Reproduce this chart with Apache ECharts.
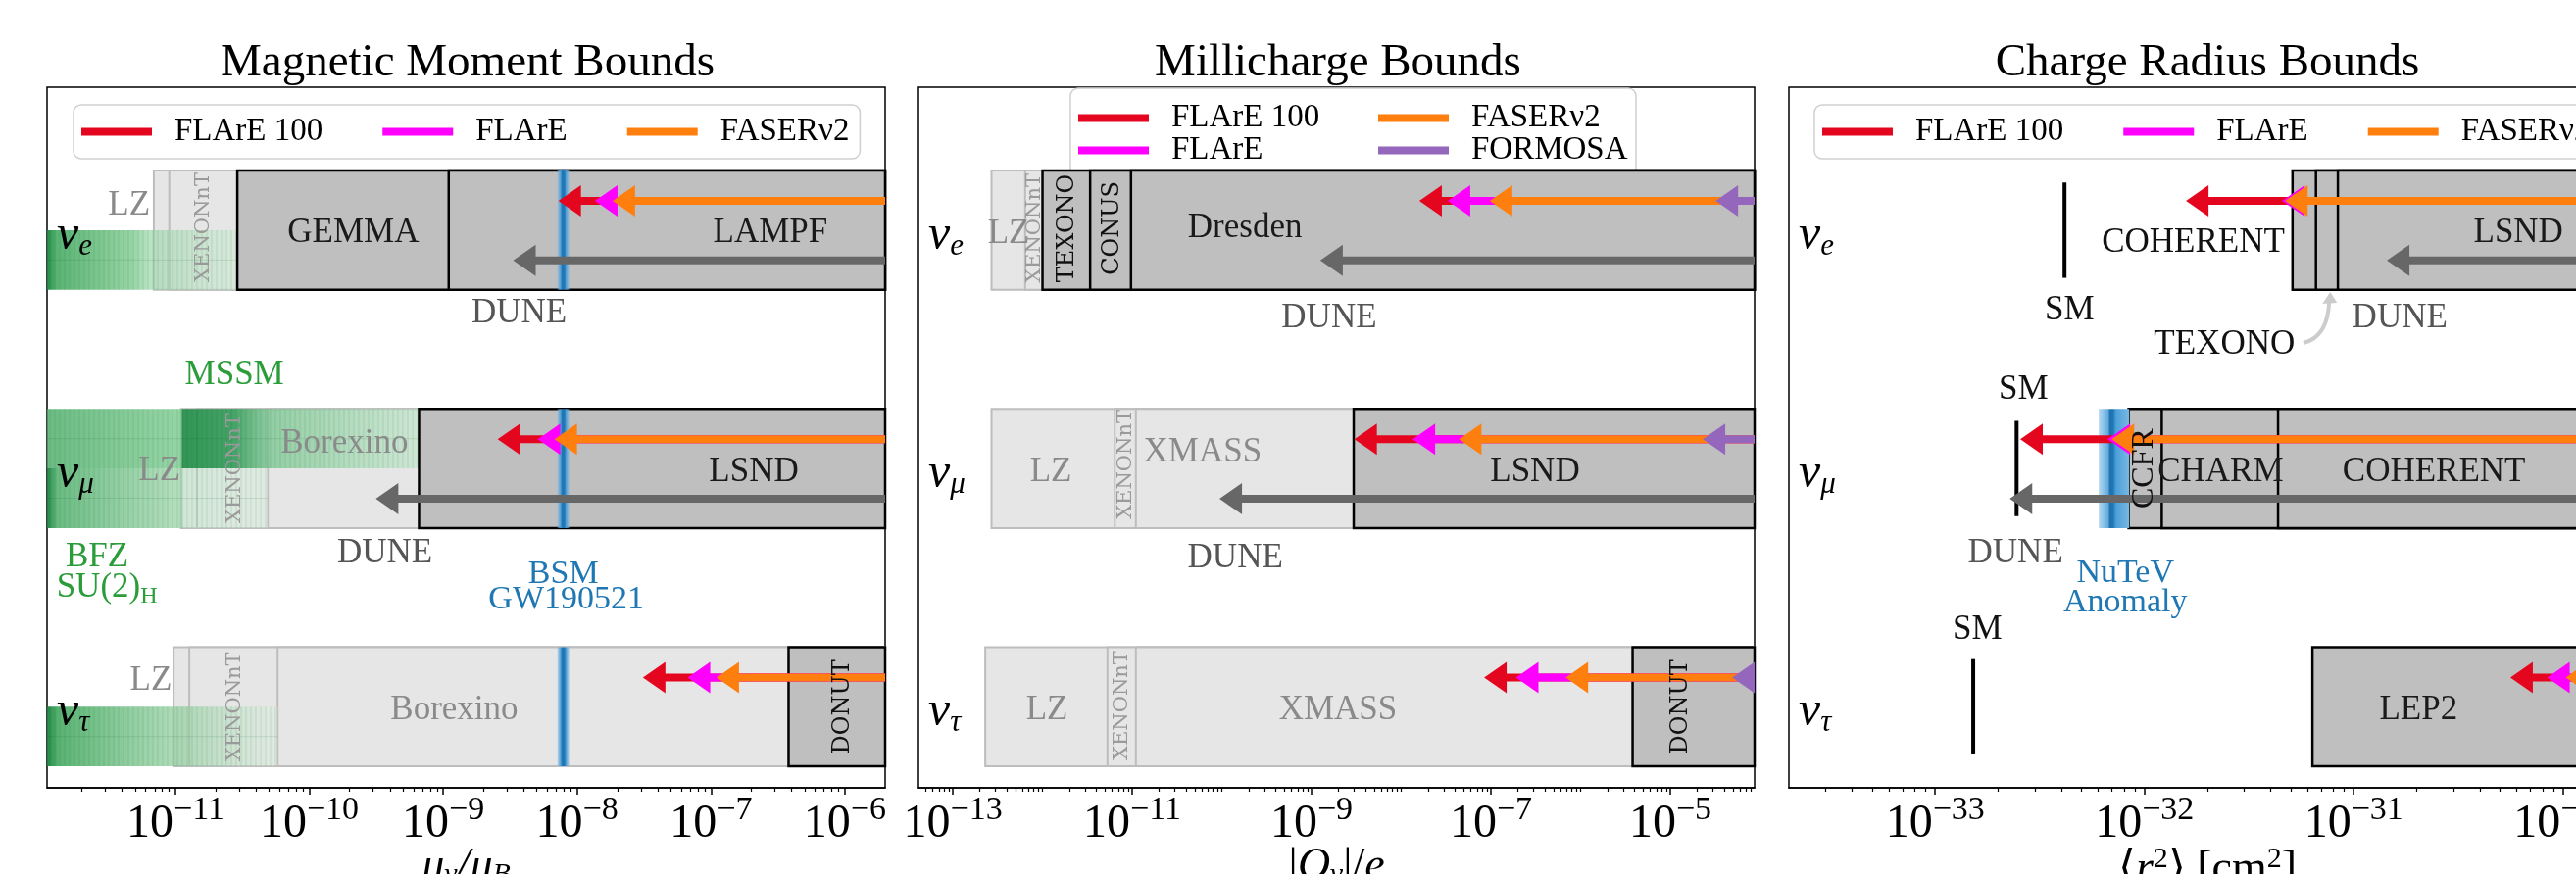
<!DOCTYPE html>
<html><head><meta charset="utf-8">
<script src="https://cdn.jsdelivr.net/npm/echarts@6/dist/echarts.min.js"></script>
<style>html,body{margin:0;padding:0;background:#fff;overflow:hidden}#c{width:2628px;height:892px}</style>
</head><body><div id="c"></div>
<script>
// ================= DATA =================
const rowFlavours = ['τ', 'μ', 'e'];          // y rows 0,1,2
const flavourOrder = [2, 1, 0];               // arrays below are listed νe, νμ, ντ

// ---- Magnetic moment (μν/μB) ----
const axisRangeMM = [1.1e-12, 2e-6];
const majorExpMM = [-11, -10, -9, -8, -7, -6];
const mmLightBoxes = [['LZ', 6.9e-12, 2], ['XENONnT', 9.0e-12, 2],
  ['LZ', 1.1e-11, 1], ['XENONnT', 1.45e-11, 1], ['Borexino', 4.9e-11, 1],
  ['LZ', 9.7e-12, 0], ['XENONnT', 1.27e-11, 0], ['Borexino', 5.8e-11, 0]];
const mmDarkBoxes = [['GEMMA', 2.9e-11, 2], ['LAMPF', 1.1e-9, 2], ['LSND', 6.6e-10, 1], ['DONUT', 3.8e-7, 0]];
const mmModelBands = [['BFZ', 1.1e-12, 2.9e-11, 2, 'lower'], ['MSSM', 1.1e-12, 6.6e-10, 1, 'upper'],
  ['BFZ', 1.1e-12, 4.9e-11, 1, 'lower'], ['BFZ', 1.1e-12, 5.8e-11, 0, 'lower']];
const mmGW190521 = 7.9e-9;
const mmFLArE100 = [7.26e-9, 2.55e-9, 3.1e-8];
const mmFLArE = [1.36e-8, 5.09e-9, 6.7e-8];
const mmFASERnu2 = [1.84e-8, 6.78e-9, 1.1e-7];
const mmDUNE = [3.33e-9, 3.14e-10, null];
const mmLabels = [
  ['LZ', 6.47e-12, 2.102, 'light', 'right'], ['XENONnT', 1.61e-11, 2.012, 'rotLight'],
  ['GEMMA', 2.13e-10, 1.987, 'dark'], ['LAMPF', 2.78e-7, 1.987, 'dark'], ['DUNE', 3.69e-9, 1.650, 'dune'],
  ['MSSM', 2.76e-11, 1.391, 'green'],
  ['LZ', 1.09e-11, 0.988, 'light', 'right'], ['XENONnT', 2.79e-11, 1.0, 'rotLight'],
  ['Borexino', 1.83e-10, 1.103, 'light'], ['LSND', 2.09e-7, 0.984, 'dark'], ['DUNE', 3.66e-10, 0.643, 'dune'],
  ['BFZ', 2.6e-12, 0.626, 'green'], ['SU(2)|H', 3.08e-12, 0.499, 'greenSub'],
  ['BSM', 7.9e-9, 0.556, 'blue'], ['GW190521', 8.3e-9, 0.450, 'blue'],
  ['LZ', 9.4e-12, 0.108, 'light', 'right'], ['XENONnT', 2.79e-11, 0.0, 'rotLight'],
  ['Borexino', 1.21e-9, -0.015, 'light'], ['DONUT', 9.7e-7, 0.0, 'rotDark']];

// ---- Millicharge (|Qν|/e) ----
const axisRangeQ = [4.14e-14, 8.71e-5];
const majorExpQ = [-13, -11, -9, -7, -5];
const qLightBoxes = [['LZ', 2.7e-13, 2], ['XENONnT', 6.4e-13, 2],
  ['LZ', 2.7e-13, 1], ['XENONnT', 6.4e-12, 1], ['XMASS', 1.1e-11, 1],
  ['LZ', 2.3e-13, 0], ['XENONnT', 5.3e-12, 0], ['XMASS', 1.1e-11, 0]];
const qDarkBoxes = [['TEXONO', 1.0e-12, 2], ['CONUS', 3.4e-12, 2], ['Dresden', 9.7e-12, 2], ['LSND', 2.95e-9, 1], ['DONUT', 3.8e-6, 0]];
const qFLArE100 = [1.59e-8, 3.0e-9, 8.4e-8];
const qFLArE = [3.3e-8, 1.34e-8, 1.9e-7];
const qFASERnu2 = [9.7e-8, 4.4e-8, 6.8e-7];
const qFORMOSA = [3.2e-5, 2.3e-5, 4.9e-5];
const qDUNE = [1.25e-9, 9.4e-11, null];
const qLabels = [
  ['LZ', 4.2e-13, 1.982, 'light'], ['XENONnT', 8.1e-13, 2.008, 'rotLight'],
  ['TEXONO', 1.9e-12, 2.008, 'rotDark'], ['CONUS', 6.0e-12, 2.008, 'rotDark'],
  ['Dresden', 1.81e-10, 2.008, 'dark'], ['DUNE', 1.57e-9, 1.630, 'dune'],
  ['LZ', 1.24e-12, 0.984, 'light'], ['XENONnT', 8.4e-12, 1.017, 'rotLight'], ['XMASS', 6.1e-11, 1.066, 'light'],
  ['LSND', 3.1e-7, 0.984, 'dark'], ['DUNE', 1.41e-10, 0.622, 'dune'],
  ['LZ', 1.12e-12, -0.015, 'light'], ['XENONnT', 7.7e-12, 0.005, 'rotLight'],
  ['XMASS', 1.97e-9, -0.015, 'light'], ['DONUT', 1.32e-5, 0.0, 'rotDark']];

// ---- Charge radius (<r^2> [cm^2]) ----
const axisRangeR = [2e-34, 2e-30];
const majorExpR = [-33, -32, -31, -30];
const rDarkBoxes = [['COHERENT', 5.1e-32, 2], ['TEXONO', 6.6e-32, 2], ['LSND', 8.4e-32, 2],
  ['CCFR', 8.4e-33, 1], ['CHARM', 1.21e-32, 1], ['COHERENT', 4.35e-32, 1], ['LEP2', 6.35e-32, 0]];
const rSM = [4.15e-33, 2.45e-33, 1.52e-33];
const rNuTeV = [6.05e-33, 6.97e-33, 8.45e-33];   // low, central, high (νμ)
const rFLArE100 = [1.58e-32, 2.55e-33, 5.6e-31];
const rFLArE = [4.55e-32, 6.67e-33, 8.4e-31];
const rFASERnu2 = [4.7e-32, 6.97e-33, 1.03e-30];
const rDUNE = [1.44e-31, 2.27e-33, null];
const rTexonoPointer = [[5.75e-32, 1.527], [7.64e-32, 1.741]];
const rLabels = [
  ['COHERENT', 1.71e-32, 1.946, 'black'], ['SM', 4.39e-33, 1.662, 'black'], ['TEXONO', 2.41e-32, 1.519, 'black'],
  ['DUNE', 1.66e-31, 1.630, 'dune'], ['LSND', 6.12e-31, 1.987, 'dark'],
  ['SM', 2.64e-33, 1.329, 'black'], ['CCFR', 1.0e-32, 1.0, 'rotSerif'], ['CHARM', 2.31e-32, 0.984, 'dark'],
  ['COHERENT', 2.42e-31, 0.984, 'dark'], ['DUNE', 2.42e-33, 0.643, 'dune'],
  ['NuTeV', 8.1e-33, 0.560, 'blue'], ['Anomaly', 8.1e-33, 0.437, 'blue'],
  ['SM', 1.59e-33, 0.322, 'black'], ['LEP2', 2.04e-31, -0.015, 'dark']];

// ================= STYLE =================
const L = Math.log10;
const FONT = '"Liberation Serif", "Times New Roman", serif';
const FONT_ROT = '"DejaVu Serif", serif';
const ROW_HALF = 0.25, LANE_UP = 0.123, LANE_DN = -0.127;
const Y_MIN = -0.34, Y_MAX = 2.6;
const COLORS = {'FLArE 100': '#e4061f', 'FLArE': '#ff00ff', 'FASERν2': '#ff7f0e', 'FORMOSA': '#9467bd', 'DUNE': '#676767'};
const LABEL_STYLES = {
  dark: {font: '35px ' + FONT, fill: '#1a1a1a'},
  light: {font: '35px ' + FONT, fill: '#8a8a8a'},
  dune: {font: '35px ' + FONT, fill: '#555555'},
  green: {font: '35px ' + FONT, fill: '#2a9d3a'},
  greenSub: {font: '35px ' + FONT, fill: '#2a9d3a'},
  blue: {font: '34px ' + FONT, fill: '#1f77b4'},
  black: {font: '35px ' + FONT, fill: '#111111'},
  rotLight: {font: '21px ' + FONT_ROT, fill: '#9a9a9a', rot: true},
  rotDark: {font: '24px ' + FONT_ROT, fill: '#111111', rot: true},
  rotSerif: {font: '32px ' + FONT, fill: '#111111', rot: true}
};
const MM_BAND_GRADIENTS = [
  [[0, 'rgba(20,135,60,0.95)'], [0.05, 'rgba(60,165,90,0.85)'], [0.45, 'rgba(110,195,130,0.72)'], [0.56, 'rgba(150,212,165,0.6)'], [1, 'rgba(200,235,208,0.45)']],
  [[0, 'rgba(70,170,100,0.8)'], [0.36, 'rgba(115,198,135,0.75)'], [0.365, 'rgba(30,140,70,0.9)'], [0.5, 'rgba(40,150,80,0.85)'], [0.6, 'rgba(110,195,135,0.7)'], [1, 'rgba(190,230,200,0.6)']],
  [[0, 'rgba(20,130,60,0.95)'], [0.05, 'rgba(70,170,100,0.8)'], [0.6, 'rgba(140,205,155,0.65)'], [0.62, 'rgba(190,230,200,0.5)'], [1, 'rgba(215,240,220,0.4)']],
  [[0, 'rgba(20,130,60,0.95)'], [0.05, 'rgba(60,165,90,0.85)'], [0.55, 'rgba(130,200,145,0.65)'], [1, 'rgba(215,240,220,0.35)']]
];

function minorTicks(minLog, maxLog, majors) {
  const out = [];
  for (let n = Math.floor(minLog); n <= Math.ceil(maxLog); n++) {
    for (let k = 1; k <= 9; k++) {
      const v = n + L(k);
      if (v > minLog && v < maxLog && majors.indexOf(v) < 0) out.push(v);
    }
  }
  return out;
}

// ---------- series builders ----------
function boxSeries(gi, boxes, dark, z, xmaxLog) {
  return {type: 'custom', xAxisIndex: 2 * gi, yAxisIndex: gi, z, silent: true,
    data: boxes.map(b => [L(b[1]), b[2]]),
    renderItem(params, api) {
      const p0 = api.coord([api.value(0), api.value(1) + ROW_HALF]);
      const p1 = api.coord([xmaxLog, api.value(1) - ROW_HALF]);
      return {type: 'rect', shape: {x: p0[0], y: p0[1], width: p1[0] - p0[0], height: p1[1] - p0[1]},
        style: {fill: dark ? '#bfbfbf' : '#e6e6e6', stroke: dark ? '#000' : '#bdbdbd', lineWidth: dark ? 2.5 : 2}};
    }};
}
function bandSeries(gi, bands, grads, z) {
  return {type: 'custom', xAxisIndex: 2 * gi, yAxisIndex: gi, z, silent: true,
    data: bands.map(b => [L(b[1]), L(b[2]), b[3], b[4] === 'upper' ? 1 : 0]),
    renderItem(params, api) {
      const r = api.value(2), up = api.value(3);
      const pA = api.coord([api.value(0), up ? r + ROW_HALF : r]);
      const pB = api.coord([api.value(1), up ? r : r - ROW_HALF]);
      const children = [{type: 'rect', shape: {x: pA[0], y: pA[1], width: pB[0] - pA[0], height: pB[1] - pA[1]},
        style: {fill: new echarts.graphic.LinearGradient(0, 0, 1, 0, grads[params.dataIndex].map(s => ({offset: s[0], color: s[1]})))}}];
      for (let x = pA[0] + 3; x < pB[0]; x += 5) {
        children.push({type: 'line', shape: {x1: x, y1: pA[1], x2: x, y2: pB[1]}, style: {stroke: 'rgba(0,90,35,0.13)', lineWidth: 1}});
      }
      children.push({type: 'line', shape: {x1: pA[0], y1: (pA[1] + pB[1]) / 2, x2: pB[0], y2: (pA[1] + pB[1]) / 2}, style: {stroke: 'rgba(0,90,35,0.12)', lineWidth: 1}});
      return {type: 'group', children};
    }};
}
function blueLineSeries(gi, value, z) {
  return {type: 'custom', xAxisIndex: 2 * gi, yAxisIndex: gi, z, silent: true,
    data: [0, 1, 2].map(r => [L(value), r]),
    renderItem(params, api) {
      const p0 = api.coord([api.value(0), api.value(1) + ROW_HALF]);
      const p1 = api.coord([api.value(0), api.value(1) - ROW_HALF]);
      const w = 12;
      return {type: 'rect', shape: {x: p0[0] - w / 2, y: p0[1], width: w, height: p1[1] - p0[1]},
        style: {fill: new echarts.graphic.LinearGradient(0, 0, 1, 0, [
          {offset: 0, color: 'rgba(120,180,228,0.45)'}, {offset: 0.28, color: '#4c9bd6'}, {offset: 0.4, color: '#1f77b4'},
          {offset: 0.6, color: '#1f77b4'}, {offset: 0.72, color: '#4c9bd6'}, {offset: 1, color: 'rgba(120,180,228,0.45)'}])}};
    }};
}
function nutevSeries(gi, band, z) {
  return {type: 'custom', xAxisIndex: 2 * gi, yAxisIndex: gi, z, silent: true,
    data: [[L(band[0]), L(band[1]), L(band[2]), 1]],
    renderItem(params, api) {
      const r = api.value(3);
      const pA = api.coord([api.value(0), r + ROW_HALF]);
      const pC = api.coord([api.value(1), r]);
      const pB = api.coord([api.value(2), r - ROW_HALF]);
      const w = pB[0] - pA[0], c = (pC[0] - pA[0]) / w;
      return {type: 'rect', shape: {x: pA[0], y: pA[1], width: w, height: pB[1] - pA[1]},
        style: {fill: new echarts.graphic.LinearGradient(0, 0, 1, 0, [
          {offset: 0, color: 'rgba(160,205,236,0.8)'}, {offset: c - 0.12, color: '#62acdf'}, {offset: c - 0.05, color: '#1f6fae'},
          {offset: c + 0.05, color: '#1f77b4'}, {offset: c + 0.14, color: '#4a9fd8'}, {offset: 1, color: '#78b9e4'}])}};
    }};
}
function smSeries(gi, vals, z) {
  return {type: 'custom', xAxisIndex: 2 * gi, yAxisIndex: gi, z, silent: true,
    data: vals.map((v, i) => [L(v), flavourOrder[i]]),
    renderItem(params, api) {
      const p0 = api.coord([api.value(0), api.value(1) + 0.2]);
      const p1 = api.coord([api.value(0), api.value(1) - 0.2]);
      return {type: 'line', shape: {x1: p0[0], y1: p0[1], x2: p1[0], y2: p1[1]}, style: {stroke: '#000', lineWidth: 4}};
    }};
}
function arrowSeries(gi, name, vals, lane, xmaxLog, z) {
  const color = COLORS[name];
  const data = [];
  vals.forEach((v, i) => { if (v != null) data.push([L(v), flavourOrder[i]]); });
  return {type: 'custom', name, xAxisIndex: 2 * gi, yAxisIndex: gi, z, silent: true,
    itemStyle: {color}, data,
    renderItem(params, api) {
      const tip = api.coord([api.value(0), api.value(1) + lane]);
      const end = api.coord([xmaxLog, api.value(1)])[0];
      const HL = 23, HW = 16, LW = 8;
      return {type: 'group', children: [
        {type: 'rect', shape: {x: tip[0] + HL - 3, y: tip[1] - LW / 2, width: end - tip[0] - HL + 3, height: LW}, style: {fill: color}},
        {type: 'polygon', shape: {points: [[tip[0], tip[1]], [tip[0] + HL, tip[1] - HW], [tip[0] + HL, tip[1] + HW]]}, style: {fill: color}}]};
    }};
}
function labelSeries(gi, labels, z) {
  return {type: 'custom', xAxisIndex: 2 * gi, yAxisIndex: gi, z, silent: true,
    data: labels.map(l => [L(l[1]), l[2]]),
    renderItem(params, api) {
      const l = labels[params.dataIndex];
      const st = LABEL_STYLES[l[3]];
      const p = api.coord([api.value(0), api.value(1)]);
      const style = {text: l[0], font: st.font, fill: st.fill, align: l[4] || 'center', verticalAlign: 'middle'};
      if (l[3] === 'greenSub') {
        const parts = l[0].split('|');
        style.text = '{a|' + parts[0] + '}{s|' + parts[1] + '}';
        style.rich = {a: {fontSize: 35, fontFamily: FONT, fill: st.fill},
          s: {fontSize: 24, fontFamily: FONT, fill: st.fill, padding: [18, 0, 0, 0]}};
        delete style.font;
      }
      return {type: 'text', x: p[0], y: p[1], rotation: st.rot ? Math.PI / 2 : 0, style};
    }};
}
function flavourSeries(gi, xminLog, z) {
  return {type: 'custom', xAxisIndex: 2 * gi, yAxisIndex: gi, z, silent: true,
    data: rowFlavours.map((f, i) => [xminLog, i]),
    renderItem(params, api) {
      const p = api.coord([api.value(0), api.value(1)]);
      const sub = rowFlavours[params.dataIndex];
      return {type: 'text', x: p[0] + 10, y: p[1] + 6, style: {text: '{n|ν}{s|' + sub + '}', align: 'left', verticalAlign: 'middle',
        rich: {n: {fontSize: 50, fontStyle: 'italic', fontFamily: FONT, fill: '#000'},
          s: {fontSize: 31, fontStyle: 'italic', fontFamily: FONT, fill: '#000', padding: [22, 0, 0, 0]}}}};
    }};
}
function pointerSeries(gi, pts, z) {
  return {type: 'custom', xAxisIndex: 2 * gi, yAxisIndex: gi, z, silent: true,
    data: [[L(pts[0][0]), pts[0][1], L(pts[1][0]), pts[1][1]]],
    renderItem(params, api) {
      const p0 = api.coord([api.value(0), api.value(1)]);
      const p1 = api.coord([api.value(2), api.value(3)]);
      return {type: 'group', children: [
        {type: 'bezierCurve', shape: {x1: p0[0], y1: p0[1], x2: p1[0], y2: p1[1] + 8, cpx1: p1[0] - 1, cpy1: p0[1] - 6},
          style: {stroke: '#cccccc', lineWidth: 4, fill: null}},
        {type: 'polygon', shape: {points: [[p1[0] + 1, p1[1]], [p1[0] - 7, p1[1] + 12], [p1[0] + 8, p1[1] + 11]]}, style: {fill: '#cccccc'}}]};
    }};
}

// ---------- panels ----------
const panels = [
  {range: axisRangeMM, majors: majorExpMM, light: mmLightBoxes, dark: mmDarkBoxes,
    arrows: [['FLArE 100', mmFLArE100], ['FLArE', mmFLArE], ['FASERν2', mmFASERnu2]], dune: mmDUNE, labels: mmLabels,
    left: 48, width: 855, title: 'Magnetic Moment Bounds', titleX: 477,
    xname: '{i|μ}{s|ν}{i|/μ}{s|B}'},
  {range: axisRangeQ, majors: majorExpQ, light: qLightBoxes, dark: qDarkBoxes,
    arrows: [['FLArE 100', qFLArE100], ['FLArE', qFLArE], ['FASERν2', qFASERnu2], ['FORMOSA', qFORMOSA]], dune: qDUNE, labels: qLabels,
    left: 937, width: 853, title: 'Millicharge Bounds', titleX: 1365,
    xname: '{u||}{i|Q}{s|ν}{u||/}{i|e}'},
  {range: axisRangeR, majors: majorExpR, light: [], dark: rDarkBoxes,
    arrows: [['FLArE 100', rFLArE100], ['FLArE', rFLArE], ['FASERν2', rFASERnu2]], dune: rDUNE, labels: rLabels,
    left: 1825, width: 854, title: 'Charge Radius Bounds', titleX: 2252,
    xname: '{u|⟨}{i|r}{p|2}{u|⟩ [cm}{p|2}{u|]}'}
];

const grids = [], xAxes = [], yAxes = [], series = [], titles = [];
panels.forEach((P, gi) => {
  const mn = L(P.range[0]), mx = L(P.range[1]);
  grids.push({left: P.left, top: 89, width: P.width, height: 715, containLabel: false, outerBoundsMode: 'none',
    show: true, borderColor: '#000', borderWidth: 1.5, backgroundColor: '#fff'});
  xAxes.push({type: 'value', gridIndex: gi, min: mn, max: mx, position: 'bottom',
    axisLine: {show: true, onZero: false, lineStyle: {color: '#000', width: 1.5}},
    axisTick: {show: true, customValues: P.majors, length: 7, lineStyle: {color: '#000', width: 1.5}},
    axisLabel: {show: true, customValues: P.majors, margin: 6, fontSize: 48, fontFamily: FONT, color: '#000',
      formatter: v => '{b|10}{s|' + (v < 0 ? '−' : '') + Math.abs(v) + '}',
      rich: {b: {fontSize: 48, fontFamily: FONT, color: '#000'}, s: {fontSize: 34, fontFamily: FONT, color: '#000', padding: [0, 0, 28, 0]}}},
    splitLine: {show: false},
    name: P.xname, nameLocation: 'middle', nameGap: 58, nameMoveOverlap: false,
    nameTextStyle: {fontSize: 46, fontFamily: FONT, rich: {
      i: {fontSize: 46, fontStyle: 'italic', fontFamily: FONT, color: '#000'},
      u: {fontSize: 46, fontFamily: FONT, color: '#000'},
      s: {fontSize: 30, fontStyle: 'italic', fontFamily: FONT, color: '#000', padding: [16, 0, 0, 0]},
      p: {fontSize: 30, fontFamily: FONT, color: '#000', padding: [0, 0, 22, 0]}}}});
  xAxes.push({type: 'value', gridIndex: gi, min: mn, max: mx, position: 'bottom',
    axisLine: {show: false, onZero: false}, axisLabel: {show: false}, splitLine: {show: false},
    axisTick: {show: true, customValues: minorTicks(mn, mx, P.majors), length: 4, lineStyle: {color: '#000', width: 1.2}}});
  yAxes.push({type: 'value', gridIndex: gi, min: Y_MIN, max: Y_MAX, show: false});
  titles.push({text: P.title, left: P.titleX, top: 41, textAlign: 'center', padding: 0,
    textStyle: {fontFamily: FONT, fontSize: 47, fontWeight: 'normal', color: '#000'}});

  series.push(boxSeries(gi, P.light, false, 2, mx));
  if (gi === 0) series.push(bandSeries(gi, mmModelBands, MM_BAND_GRADIENTS, 3));
  series.push(boxSeries(gi, P.dark, true, 4, mx));
  if (gi === 0) series.push(blueLineSeries(gi, mmGW190521, 5));
  if (gi === 2) { series.push(nutevSeries(gi, rNuTeV, 5)); series.push(smSeries(gi, rSM, 5)); series.push(pointerSeries(gi, rTexonoPointer, 5)); }
  series.push(arrowSeries(gi, 'DUNE', P.dune, LANE_DN, mx, 6));
  P.arrows.forEach(a => series.push(arrowSeries(gi, a[0], a[1], LANE_UP, mx, 6)));
  series.push(labelSeries(gi, P.labels, 10));
  series.push(flavourSeries(gi, mn, 11));
});

const legendCommon = {icon: 'rect', itemWidth: 72, itemHeight: 8, itemGap: 61, selectedMode: false,
  padding: [11, 11, 11, 8], backgroundColor: 'rgba(255,255,255,0.85)', borderColor: '#cfcfcf', borderWidth: 1.5, borderRadius: 8,
  textStyle: {fontFamily: FONT, fontSize: 33, color: '#000', padding: [0, 0, 0, 18]}};
const legItem = (n, w) => ({name: n, itemStyle: {color: COLORS[n]}, textStyle: w ? {width: w} : undefined});

const option = {
  animation: false,
  backgroundColor: '#fff',
  title: titles,
  grid: grids, xAxis: xAxes, yAxis: yAxes, series,
  legend: [
    Object.assign({}, legendCommon, {left: 75, top: 107, width: 1000, data: [legItem('FLArE 100'), legItem('FLArE'), legItem('FASERν2')]}),
    Object.assign({}, legendCommon, {left: 1092, top: 90, width: 570, itemGap: 0, padding: [14, 8, 14, 8],
      textStyle: Object.assign({}, legendCommon.textStyle, {lineHeight: 28}),
      data: [legItem('FLArE 100', 211), legItem('FASERν2', 160), legItem('FLArE', 211), legItem('FORMOSA', 160)]}),
    Object.assign({}, legendCommon, {left: 1851, top: 107, width: 1000, data: [legItem('FLArE 100'), legItem('FLArE'), legItem('FASERν2')]})
  ]
};
const chart = echarts.init(document.getElementById('c'), null, {renderer: 'canvas', width: 2628, height: 892});
chart.setOption(option);
</script></body></html>
